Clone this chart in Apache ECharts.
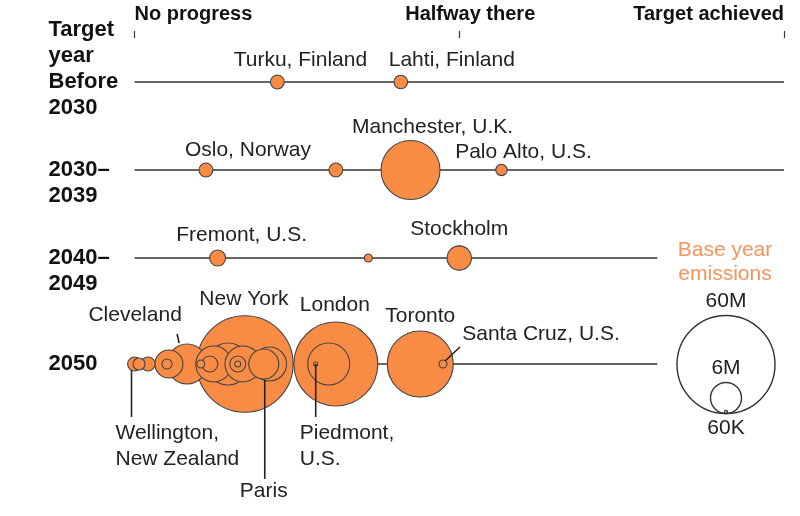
<!DOCTYPE html>
<html>
<head>
<meta charset="utf-8">
<script src="https://cdn.jsdelivr.net/npm/echarts@6/dist/echarts.min.js"></script>
<style>
html, body { margin: 0; padding: 0; background: #fff; }
#chart { width: 800px; height: 516px; }
</style>
</head>
<body>
<div id="chart"></div>
<script>
// rows = year the city targets for its emissions goal
var targetYears = ['Before 2030', '2030–2039', '2040–2049', '2050'];
var rowLabels = ['Target\nyear\nBefore\n2030\n ', ' \n2030–\n2039', ' \n2040–\n2049', '2050'];
var rowLineEnd = [100, 100, 80.5, 80.5];
var progressTicks = { 0: 'No progress', 50: 'Halfway there', 100: 'Target achieved' };

// cities ('' = bubble without a label), progress toward target in %, base year emissions in kt
var cityNames = [
  'Turku, Finland', 'Lahti, Finland',
  'Oslo, Norway', '', 'Manchester, U.K.', 'Palo Alto, U.S.',
  'Fremont, U.S.', '', 'Stockholm',
  'Wellington,\nNew Zealand', '', '', '', '', 'Cleveland', 'New York', '', '', '', '', '', '', '',
  'Paris', '', 'London', '', 'Piedmont,\nU.S.', 'Toronto', 'Santa Cruz, U.S.'
];
var cityTarget = [
  'Before 2030', 'Before 2030',
  '2030–2039', '2030–2039', '2030–2039', '2030–2039',
  '2040–2049', '2040–2049', '2040–2049',
  '2050', '2050', '2050', '2050', '2050', '2050', '2050', '2050', '2050', '2050', '2050', '2050', '2050', '2050',
  '2050', '2050', '2050', '2050', '2050', '2050', '2050'
];
var cityProgress = [
  22, 41,
  11, 31, 42.5, 56.5,
  12.8, 36, 50,
  0, 0.7, 2.1, 5, 5.3, 8.1, 17, 10.2, 11.6, 12.2, 14.4, 15.9, 15.9, 16.7,
  19.9, 20.8, 31, 29.9, 27.9, 44, 47.5
];
var cityEmissions = [
  1200, 1150,
  1200, 1200, 21700, 800,
  1600, 400, 3700,
  1200, 900, 1200, 625, 4900, 10000, 58000, 400, 1600, 8100, 11000, 225, 1600, 8100,
  5600, 7200, 44000, 11000, 100, 27200, 400
];

var legendValues = [60000, 6000, 60];
var legendText = ['60M', '6M', '60K'];

// label offsets from bubble centre (px)
var labelPlace = {
  'Turku, Finland': [23, -22],
  'Lahti, Finland': [51, -22],
  'Oslo, Norway': [42, -20],
  'Manchester, U.K.': [22, -43],
  'Palo Alto, U.S.': [22, -18],
  'Fremont, U.S.': [24, -23],
  'Stockholm': [0, -29],
  'Cleveland': [-52, -49],
  'New York': [-1, -65],
  'London': [-1, -59],
  'Toronto': [0, -48],
  'Santa Cruz, U.S.': [98, -30],
  'Wellington,\nNew Zealand': [-19, 82, 'left'],
  'Paris': [0, 127],
  'Piedmont,\nU.S.': [-16, 82, 'left']
};
// leader lines: start dx, dy, end dx, dy from bubble centre
var leaders = {
  'Cleveland': [-8, -21, -10, -30],
  'Wellington,\nNew Zealand': [-3, 6, -3, 53],
  'Paris': [1, 16, 1, 115],
  'Piedmont,\nU.S.': [0, 0, 0, 53],
  'Santa Cruz, U.S.': [2, -3, 17, -17]
};

var FONT = '"Liberation Sans", Arial, sans-serif';
var ORANGE = '#f98c45';
var sizeScale = function (v) { return 2 * 49 * Math.sqrt(v / 60000); };

function bubbleData(rows) {
  var idx = [];
  cityNames.forEach(function (n, i) { if (rows.indexOf(cityTarget[i]) >= 0) idx.push(i); });
  idx.sort(function (a, b) { return cityEmissions[b] - cityEmissions[a]; });
  return idx.map(function (i) {
    var item = { name: cityNames[i], value: [cityProgress[i], cityTarget[i], cityEmissions[i]] };
    var p = labelPlace[cityNames[i]];
    if (p) item.label = { show: true, offset: [p[0], p[1]], align: p[2] || 'center' };
    return item;
  });
}

function bubbles(gi, rows) {
  return {
    type: 'scatter', xAxisIndex: gi, yAxisIndex: gi, silent: true, z: 3,
    data: bubbleData(rows),
    symbolSize: function (v) { return sizeScale(v[2]); },
    itemStyle: { color: ORANGE, borderColor: '#444', borderWidth: 1.1, opacity: 1 },
    label: {
      show: false, position: 'inside', formatter: '{b}', color: '#222',
      fontSize: 21, lineHeight: 26, fontFamily: FONT
    }
  };
}

var series = [];
targetYears.forEach(function (t, i) {
  var gi = i < 3 ? 0 : 1;
  series.push({
    type: 'line', xAxisIndex: gi, yAxisIndex: gi, silent: true, z: 1,
    symbol: 'none', data: [[0, t], [rowLineEnd[i], t]],
    lineStyle: { color: '#333', width: 1.7 }
  });
});
series.push(bubbles(0, targetYears.slice(0, 3)));
series.push(bubbles(1, targetYears.slice(3)));
series.push({
  type: 'custom', xAxisIndex: 1, yAxisIndex: 1, silent: true, z: 6,
  data: Object.keys(leaders).map(function (n) {
    var i = cityNames.indexOf(n);
    return [cityProgress[i], cityTarget[i]].concat(leaders[n]);
  }),
  renderItem: function (params, api) {
    var p = api.coord([api.value(0), api.value(1)]);
    return {
      type: 'line',
      shape: { x1: p[0] + api.value(2), y1: p[1] + api.value(3), x2: p[0] + api.value(4), y2: p[1] + api.value(5) },
      style: { stroke: '#222', lineWidth: 1.6 }
    };
  }
});

// size key
var graphics = [{
  type: 'text', x: 725, y: 238,
  style: { text: 'Base year\nemissions', fill: '#f8935a', font: '21px ' + FONT, lineHeight: 24, textAlign: 'center' }
}];
var keyX = 726, keyBottom = 413.5;
legendValues.forEach(function (v, i) {
  var r = sizeScale(v) / 2;
  graphics.push({
    type: 'circle', shape: { cx: keyX, cy: keyBottom - r, r: r },
    style: { fill: 'none', stroke: '#333', lineWidth: 1.4 }
  });
  var ty = i < legendValues.length - 1 ? keyBottom - 2 * r - 14 : keyBottom + 15;
  graphics.push({
    type: 'text', x: keyX, y: ty,
    style: { text: legendText[i], fill: '#222', font: '21px ' + FONT, textAlign: 'center', textVerticalAlign: 'middle' }
  });
});

var rowAxisLabel = {
  interval: 0, hideOverlap: false,
  align: 'left', margin: 86, fontSize: 22, fontWeight: 'bold', lineHeight: 26,
  color: '#111', fontFamily: FONT,
  formatter: function (v) { return rowLabels[targetYears.indexOf(v)]; }
};

var chart = echarts.init(document.getElementById('chart'));
chart.setOption({
  animation: false,
  backgroundColor: '#fff',
  grid: [
    { left: 134.5, right: 16, top: 38, height: 264, outerBoundsMode: 'none' },
    { left: 134.5, right: 16, top: 320, height: 88, outerBoundsMode: 'none' }
  ],
  xAxis: [
    {
      gridIndex: 0, type: 'value', min: 0, max: 100, interval: 50, position: 'top',
      axisLine: { show: false }, splitLine: { show: false },
      axisTick: { show: true, length: 7, lineStyle: { color: '#333', width: 1.2 } },
      axisLabel: {
        margin: 14, fontSize: 20, fontWeight: 'bold', color: '#111', fontFamily: FONT,
        alignMinLabel: 'left', alignMaxLabel: 'right',
        formatter: function (v) { return v === 50 ? '{mid|' + progressTicks[v] + '}' : progressTicks[v]; },
        rich: { mid: { padding: [0, 0, 0, 22], fontSize: 20, fontWeight: 'bold', color: '#111', fontFamily: FONT } }
      }
    },
    { gridIndex: 1, type: 'value', min: 0, max: 100, show: false }
  ],
  yAxis: [
    {
      gridIndex: 0, type: 'category', data: targetYears.slice(0, 3), inverse: true,
      axisLine: { show: false }, axisTick: { show: false }, splitLine: { show: false },
      axisLabel: rowAxisLabel
    },
    {
      gridIndex: 1, type: 'category', data: targetYears.slice(3), inverse: true,
      axisLine: { show: false }, axisTick: { show: false }, splitLine: { show: false },
      axisLabel: rowAxisLabel
    }
  ],
  graphic: graphics,
  series: series
});
</script>
</body>
</html>
